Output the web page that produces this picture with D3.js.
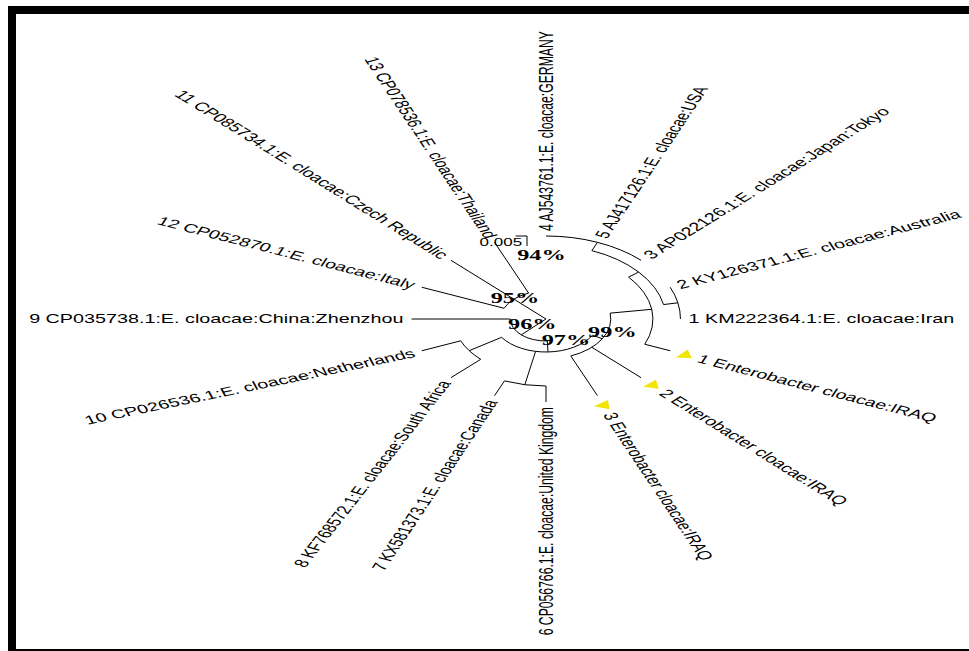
<!DOCTYPE html>
<html><head><meta charset="utf-8">
<script src="https://cdn.jsdelivr.net/npm/d3@7"></script>
<style>html,body{margin:0;padding:0;background:#fff;} svg{display:block}</style>
</head><body><svg id="c" width="969" height="651"></svg>
<script>
// ---------------- data ----------------
// tree topology: node ids, their parents and branch lengths (substitutions/site)
const nodeIds       = ["root","n95","n96","n97","n99","nA","nB","n94","nD","nUK","nNL",
                       "L4","L5","L3","L2","L1","Q1","Q2","Q3","L6","L7","L8","L10","L9","L12","L11","L13"];
const parentIds     = ["","root","root","n96","n97","n99","nA","nB","nB","n97","n97",
                       "n94","n94","n94","nD","nD","nA","n99","n99","nUK","nUK","nNL","nNL","n96","n95","n95","n95"];
const branchLengths = [0,0.014,0.011,0.0055,0.0035,0.013,0.004,0.0045,0.0045,0.017,0.012,
                       0,0,0,0,0,0.0085,0.0215,0.0215,0.008,0.008,0.013,0.013,0.0305,0.0275,0.0275,0.0275];
// leaves in clockwise order starting at the top
const leafOrder = ["L4","L5","L3","L2","L1","Q1","Q2","Q3","L6","L7","L8","L10","L9","L12","L11","L13"];
const leafNames = [
  "4 AJ543761.1:E. cloacae:GERMANY",
  "5 AJ417126.1:E. cloacae:USA",
  "3 AP022126.1:E. cloacae:Japan:Tokyo",
  "2 KY126371.1:E. cloacae:Australia",
  "1 KM222364.1:E. cloacae:Iran",
  "1 Enterobacter cloacae:IRAQ",
  "2 Enterobacter cloacae:IRAQ",
  "3 Enterobacter cloacae:IRAQ",
  "6 CP056766.1:E. cloacae:United Kingdom",
  "7 KX581373.1:E. cloacae:Canada",
  "8 KF768572.1:E. cloacae:South Africa",
  "10 CP026536.1:E. cloacae:Netherlands",
  "9 CP035738.1:E. cloacae:China:Zhenzhou",
  "12 CP052870.1:E. cloacae:Italy",
  "11 CP085734.1:E. cloacae:Czech Republic",
  "13 CP078536.1:E. cloacae:Thailand"
];
const isolateLeaves   = ["Q1","Q2","Q3"];
const bootstrapNodes  = ["n94","n95","n96","n97","n99"];
const bootstrapValues = ["94%","95%","96%","97%","99%"];
const scaleBarValue   = 0.005;
const scaleBarLabel   = "0.005";

// ---------------- layout ----------------
const W = 969, H = 651;
const CX = 546, CY = 319, SX = 1.62;         // picture is stretched horizontally
const svg = d3.select("#c");

// frame
svg.append("rect").attr("x",8).attr("y",6).attr("width",W-8).attr("height",8).attr("fill","#000");
svg.append("rect").attr("x",8).attr("y",6).attr("width",8).attr("height",H-6).attr("fill","#000");
svg.append("rect").attr("x",8).attr("y",649).attr("width",W-8).attr("height",2).attr("fill","#000");

const g = svg.append("g").attr("transform",`translate(${CX},${CY}) scale(${SX},1)`);

const rows = nodeIds.map((id,i)=>({id, parentId: parentIds[i] || null, length: branchLengths[i]}));
const root = d3.stratify().id(d=>d.id).parentId(d=>d.parentId)(rows);
root.eachBefore(n => n.dist = (n.parent ? n.parent.dist : 0) + n.data.length);

const rScale = d3.scaleLinear().domain([0, scaleBarValue]).range([0, 10]);
const aScale = d3.scaleLinear().domain([0, leafOrder.length]).range([-Math.PI/2, 1.5*Math.PI]);

root.eachAfter(n => {
  if (!n.children) n.t = leafOrder.indexOf(n.id);
  else {
    const ts = n.children.map(c=>c.t);
    n.tmin = d3.min(ts); n.tmax = d3.max(ts);
    n.t = (n.tmin + n.tmax)/2;
  }
});
const P = (r,a) => [r*Math.cos(a), r*Math.sin(a)];

const lineStyle = sel => sel.attr("fill","none").attr("stroke","#000").attr("stroke-width",1)
  .attr("vector-effect","non-scaling-stroke");

// radial branches
root.descendants().filter(n=>n.parent).forEach(n=>{
  const a = aScale(n.t);
  if (Math.abs(n.dist - n.parent.dist) < 1e-9) return;
  const p0 = P(rScale(n.parent.dist), a), p1 = P(rScale(n.dist), a);
  g.append("line").attr("x1",p0[0]).attr("y1",p0[1]).attr("x2",p1[0]).attr("y2",p1[1]).call(lineStyle);
});
// arcs
root.descendants().filter(n=>n.children && n.dist>0).forEach(n=>{
  const p = d3.path();
  p.arc(0,0,rScale(n.dist), aScale(n.tmin), aScale(n.tmax), false);
  g.append("path").attr("d",p.toString()).call(lineStyle);
});

// leaf labels (label tilt tweak reproduces the original figure's label placement)
const labelTilt = {L8: -19, L10: 4};
root.leaves().forEach(n=>{
  const i = leafOrder.indexOf(n.id);
  const a = aScale(n.t);
  const deg = a*180/Math.PI + (labelTilt[n.id] || 0);
  const flip = a*180/Math.PI >= 89.9;
  const rot = flip ? deg-180 : deg;
  const r = rScale(n.dist);
  const iso = isolateLeaves.includes(n.id);
  const lr = r + (iso ? 19 : 5);
  const lp = P(lr, a);
  g.append("text").attr("transform",`translate(${lp[0]},${lp[1]}) rotate(${rot})`)
    .attr("text-anchor", flip ? "end" : "start").attr("dy","0.35em")
    .attr("font-family","'Liberation Sans', Arial, sans-serif").attr("font-size", 12.2)
    .attr("fill","#000").text(leafNames[i]);
  if (iso) {
    const tp = P(r+9.5, a);
    g.append("path").attr("transform",`translate(${tp[0]},${tp[1]}) rotate(${a*180/Math.PI*0.25})`)
      .attr("d","M-5,3.5L5,3.5L1.5,-5Z").attr("fill","#f2e600");
  }
});

// bootstrap values
const nudge = {n94:[-56,12], n95:[1,-1], n96:[11,-11], n97:[18,-12], n99:[10,-7]};
bootstrapNodes.forEach((id,i)=>{
  const n = root.find(d=>d.id===id);
  const p = P(rScale(n.dist), aScale(n.t));
  const nd = nudge[id] || [0,0];
  g.append("text").attr("x", p[0] + nd[0]/SX).attr("y", p[1] + nd[1])
    .attr("text-anchor","middle").attr("dominant-baseline","central")
    .attr("font-family","'Liberation Serif','Times New Roman',serif").attr("font-weight","bold")
    .attr("font-size",15).attr("fill","#000").text(bootstrapValues[i]);
});

// scale bar
const sbx = (527-CX)/SX, sby = 236-CY;
const sbLen = rScale(scaleBarValue);
g.append("path").attr("d",`M${sbx-7},${sby}H${sbx}V${sby+sbLen}`).call(lineStyle);
g.append("text").attr("x", sbx-3).attr("y", sby+sbLen/2+1).attr("text-anchor","end")
  .attr("dominant-baseline","central").attr("font-family","'Liberation Sans', Arial, sans-serif")
  .attr("font-size",10.5).attr("fill","#000").text(scaleBarLabel);
</script>
</body></html>
